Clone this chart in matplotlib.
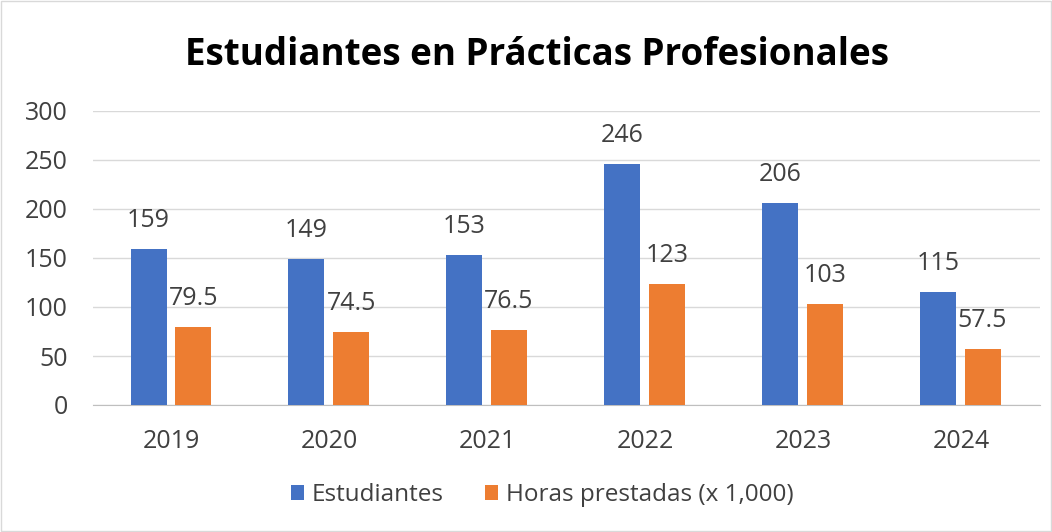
import matplotlib
matplotlib.use("Agg")
import matplotlib.pyplot as plt
import numpy as np

years = ["2019", "2020", "2021", "2022", "2023", "2024"]
estudiantes = [159, 149, 153, 246, 206, 115]
horas = [79.5, 74.5, 76.5, 123, 103, 57.5]
yticks = [0, 50, 100, 150, 200, 250, 300]

blue = "#4472C4"
orange = "#ED7D31"
plt.rcParams["font.family"] = ["Open Sans", "DejaVu Sans"]

fig = plt.figure(figsize=(10.52, 5.32), dpi=100)
ax = fig.add_axes([93 / 1052, 1 - 405 / 532, 947 / 1052, (405 - 111) / 532])

x = np.arange(len(years))
w = 0.228
off = 0.142
b1 = ax.bar(x - off - 0.006, estudiantes, w, color=blue, label="Estudiantes", zorder=3)
b2 = ax.bar(x + off - 0.006, horas, w, color=orange, label="Horas prestadas (x 1,000)", zorder=3)

fs = 18
for bars, vals in [(b1, estudiantes), (b2, horas)]:
    for rect, v in zip(bars, vals):
        ax.annotate(f"{v:g}", (rect.get_x() + rect.get_width() / 2, v), xytext=(0, 20.5),
                    textcoords="offset points", ha="center", va="center", fontsize=fs, color="#404040")

ax.set_xlim(-0.5, len(years) - 0.5)
ax.set_ylim(0, 300)
ax.set_yticks(yticks)
ax.set_xticks(x)
ax.set_xticklabels(years)
ax.tick_params(axis="both", length=0, labelsize=fs, colors="#404040")
ax.tick_params(axis="x", pad=17)
ax.tick_params(axis="y", pad=18)
ax.grid(axis="y", color="#D9D9D9", linewidth=1, zorder=0)
for s in ["top", "right", "left"]:
    ax.spines[s].set_visible(False)
ax.spines["bottom"].set_color("#BFBFBF")

fig.text(537 / 1052, 1 - 55 / 532, "Estudiantes en Prácticas Profesionales", ha="center", va="center",
         fontsize=26.5, fontweight="bold", color="black")

fig.legend(loc="center", bbox_to_anchor=(542 / 1052, 1 - 495 / 532), ncol=2, frameon=False,
           fontsize=17.5, handlelength=0.55, handleheight=0.55, columnspacing=1.7, handletextpad=0.3,
           labelcolor="#404040")

fig.patches.append(plt.Rectangle((0.001, 0.001), 0.998, 0.998, transform=fig.transFigure,
                                 fill=False, edgecolor="#D9D9D9", linewidth=1))
fig.savefig("out.png", dpi=100)
